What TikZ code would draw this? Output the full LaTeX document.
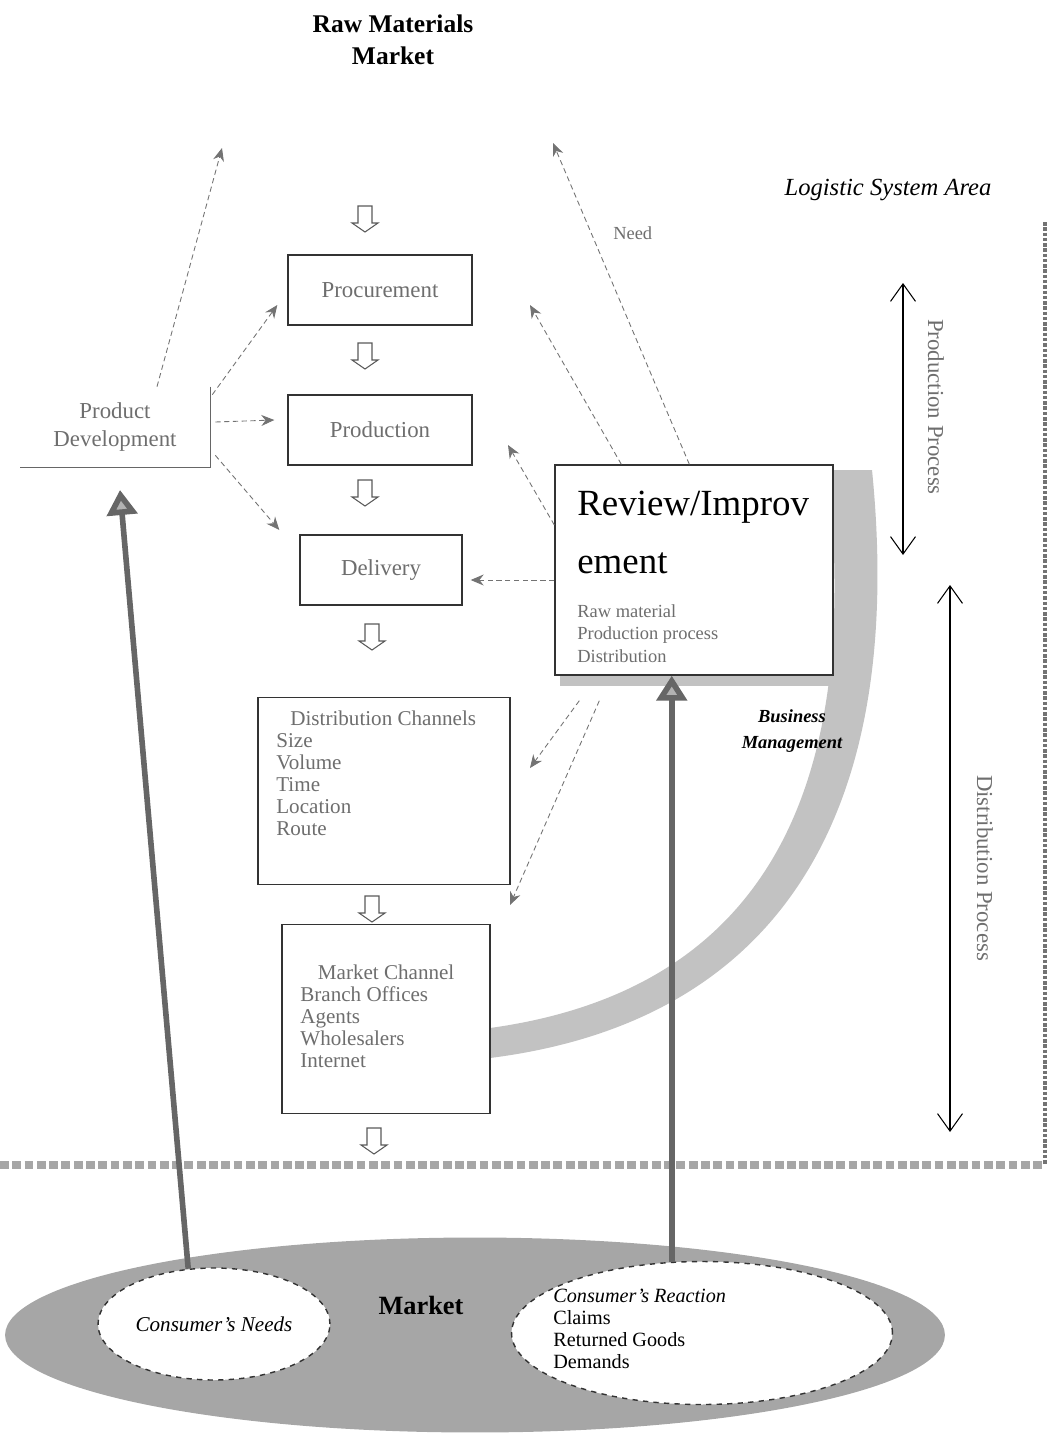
\documentclass[tikz,border=0pt]{standalone}
\usepackage{fontspec}
\setmainfont{Liberation Serif}
\usetikzlibrary{arrows.meta,positioning,calc,shapes.geometric}
\definecolor{FaintText}{HTML}{6E6E6E}
\definecolor{BandGray}{HTML}{C2C2C2}
\definecolor{MarketGray}{HTML}{A6A6A6}

\begin{document}
\begin{tikzpicture}[x=0.02cm,y=-0.02cm,
  stagebox/.style={draw=black!80,line width=0.8pt,inner sep=0pt,fill=white},
  faint/.style={text=FaintText},
  flow/.style={draw=black!55,densely dashed,line width=0.5pt,-{Stealth[length=2.6mm,width=2.2mm]}},
  feed/.style={draw=black!60,line width=3.2pt,-{Triangle[length=5mm,width=6mm,fill=black!30]}},
  spanarrow/.style={draw=black,line width=0.6pt,{Straight Barb[length=3.5mm,width=5mm]}-{Straight Barb[length=3.5mm,width=5mm]}},
  wish/.style={draw=black!80,dashed,line width=0.8pt,fill=white,ellipse,inner sep=0pt}]
  \useasboundingbox (0,0) rectangle (1054,1443);

  % logistic system area
  \draw[black!55,line width=2pt,densely dotted] (1045,222) -- (1045,1165);
  \draw[black!35,line width=5pt,dotted] (0,1165) -- (1045,1165);
  \node[font=\itshape\fontsize{14}{16}\selectfont] (area) at (888,190) {Logistic System Area};

  % market
  \node[ellipse,fill=MarketGray,minimum width=18.8cm,minimum height=3.9cm] (market) at (475,1335) {};
  \node[font=\bfseries\fontsize{15}{17}\selectfont] (mktlbl) at (421,1305) {Market};
  \node[wish,minimum width=4.64cm,minimum height=2.24cm,font=\itshape\fontsize{12}{14}\selectfont] (needs) at (214,1324) {Consumer's Needs};
  \node[wish,minimum width=7.62cm,minimum height=2.86cm] (reaction) at (702,1333) {};
  \node[anchor=north west,align=left,inner sep=0pt,font=\fontsize{11.5}{12.5}\selectfont] (reactlist) at (553,1289)
    {\textit{Consumer's Reaction}\\Claims\\Returned Goods\\Demands};

  % business management band
  \fill[BandGray] (872,470) .. controls (905,800) and (790,1020) .. (490,1058)
    -- (490,1028) .. controls (765,990) and (862,790) .. (828,470) -- cycle;
  \node[align=center,font=\bfseries\itshape\fontsize{10.5}{15}\selectfont] (bizlbl) at (792,731) {Business\\Management};

  % process stages
  \node[anchor=center,align=center,font=\bfseries\fontsize{14.5}{18.5}\selectfont] (rawmkt) at (393,40) {Raw Materials\\Market};
  \node[stagebox,minimum width=3.68cm,minimum height=1.4cm,faint,font=\fontsize{13}{15}\selectfont] (proc) at (380,290) {Procurement};
  \node[stagebox,minimum width=3.68cm,minimum height=1.4cm,faint,font=\fontsize{13}{15}\selectfont] (prod) at (380,430) {Production};
  \node[stagebox,minimum width=3.24cm,minimum height=1.4cm,faint,font=\fontsize{13}{15}\selectfont] (deliv) at (381,570) {Delivery};
  \node[minimum width=3.8cm,minimum height=1.6cm,align=center,faint,font=\fontsize{13}{16}\selectfont] (pdev) at (115,427) {Product\\Development};
  \draw[black!60,line width=0.6pt] (pdev.north east) -- (pdev.south east) -- (pdev.south west);

  \node[stagebox,minimum width=5.56cm,minimum height=4.2cm] (review) at (694,570) {};
  \fill[BandGray] ($(review.south west)+(6,0)$) rectangle ($(review.south east)+(8,10)$);
  \node[anchor=base west,inner sep=0pt,font=\fontsize{21}{21}\selectfont] (revtitle) at (577,515) {Review/Improv};
  \node[anchor=base west,inner sep=0pt,font=\fontsize{21}{21}\selectfont] (revtitleb) at (577,573) {ement};
  \node[anchor=north west,align=left,inner sep=0pt,faint,font=\fontsize{10.5}{13}\selectfont] (revlist) at (577,604)
    {Raw material\\Production process\\Distribution};

  \node[stagebox,minimum width=5.04cm,minimum height=3.74cm] (dist) at (384,791) {};
  \node[anchor=north west,align=left,inner sep=0pt,faint,font=\fontsize{12}{12.5}\selectfont] (distlist) at (276,711)
    {\hspace*{8pt}Distribution Channels\\Size\\Volume\\Time\\Location\\Route};
  \node[stagebox,minimum width=4.16cm,minimum height=3.78cm] (mkch) at (386,1019) {};
  \node[anchor=north west,align=left,inner sep=0pt,faint,font=\fontsize{12}{12.5}\selectfont] (mklist) at (300,965)
    {\hspace*{10pt}Market Channel\\Branch Offices\\Agents\\Wholesalers\\Internet};

  % hollow arrows between stages
  \foreach \ax/\ay in {365/218,365/355,365/492,372/636,372/908,374/1140}
    \draw[black!65,line width=0.6pt,shift={(\ax,\ay)}]
      (-7,-12) -- (-7,5) -- (-13,5) -- (0,14) -- (13,5) -- (7,5) -- (7,-12) -- cycle;

  % dashed flows
  \coordinate (rawL) at (222,148);
  \coordinate (rawR) at (553,143);
  \coordinate (procTip) at (530,305);
  \coordinate (prodTip) at (508,445);
  \coordinate (distTip) at (530,768);
  \coordinate (mkTip) at (510,905);
  \draw[flow] ($(pdev.north)+(42,0)$) -- (rawL);
  \draw[flow] ($(review.north west)+(135,0)$) -- node[pos=0.72,right=9pt,faint,font=\fontsize{10.5}{12}\selectfont] (needlbl) {Need} (rawR);
  \draw[flow] ($(review.north west)+(67,0)$) -- (procTip);
  \draw[flow] ($(review.west)+(0,-45)$) -- (prodTip);
  \draw[flow] ($(review.west)+(0,10)$) -- ($(deliv.east)+(8,10)$);
  \draw[flow] ($(review.south west)+(25,25)$) -- (distTip);
  \draw[flow] ($(review.south west)+(45,25)$) -- (mkTip);
  \draw[flow] ($(pdev.north east)+(2,8)$) -- ($(proc.west)+(-10,15)$);
  \draw[flow] ($(pdev.east)+(5,-5)$) -- ($(prod.west)+(-13,-10)$);
  \draw[flow] ($(pdev.south east)+(5,-12)$) -- ($(deliv.west)+(-20,-40)$);

  % market feedback
  \coordinate (needtip) at (120,490);
  \draw[feed] (needs.115) -- (needtip);
  \draw[feed] (reaction.113) -- (reaction.113 |- review.south);

  % process spans
  \coordinate (pp1) at (903,283);
  \coordinate (pp2) at (903,555);
  \coordinate (dp1) at (950,585);
  \coordinate (dp2) at (950,1132);
  \draw[spanarrow] (pp1) -- (pp2);
  \draw[spanarrow] (dp1) -- (dp2);
  \node[rotate=-90,faint,font=\fontsize{13}{15}\selectfont] (pplbl) at (936,407) {Production Process};
  \node[rotate=-90,faint,font=\fontsize{13}{15}\selectfont] (dplbl) at (985,868) {Distribution Process};
\end{tikzpicture}
\end{document}
